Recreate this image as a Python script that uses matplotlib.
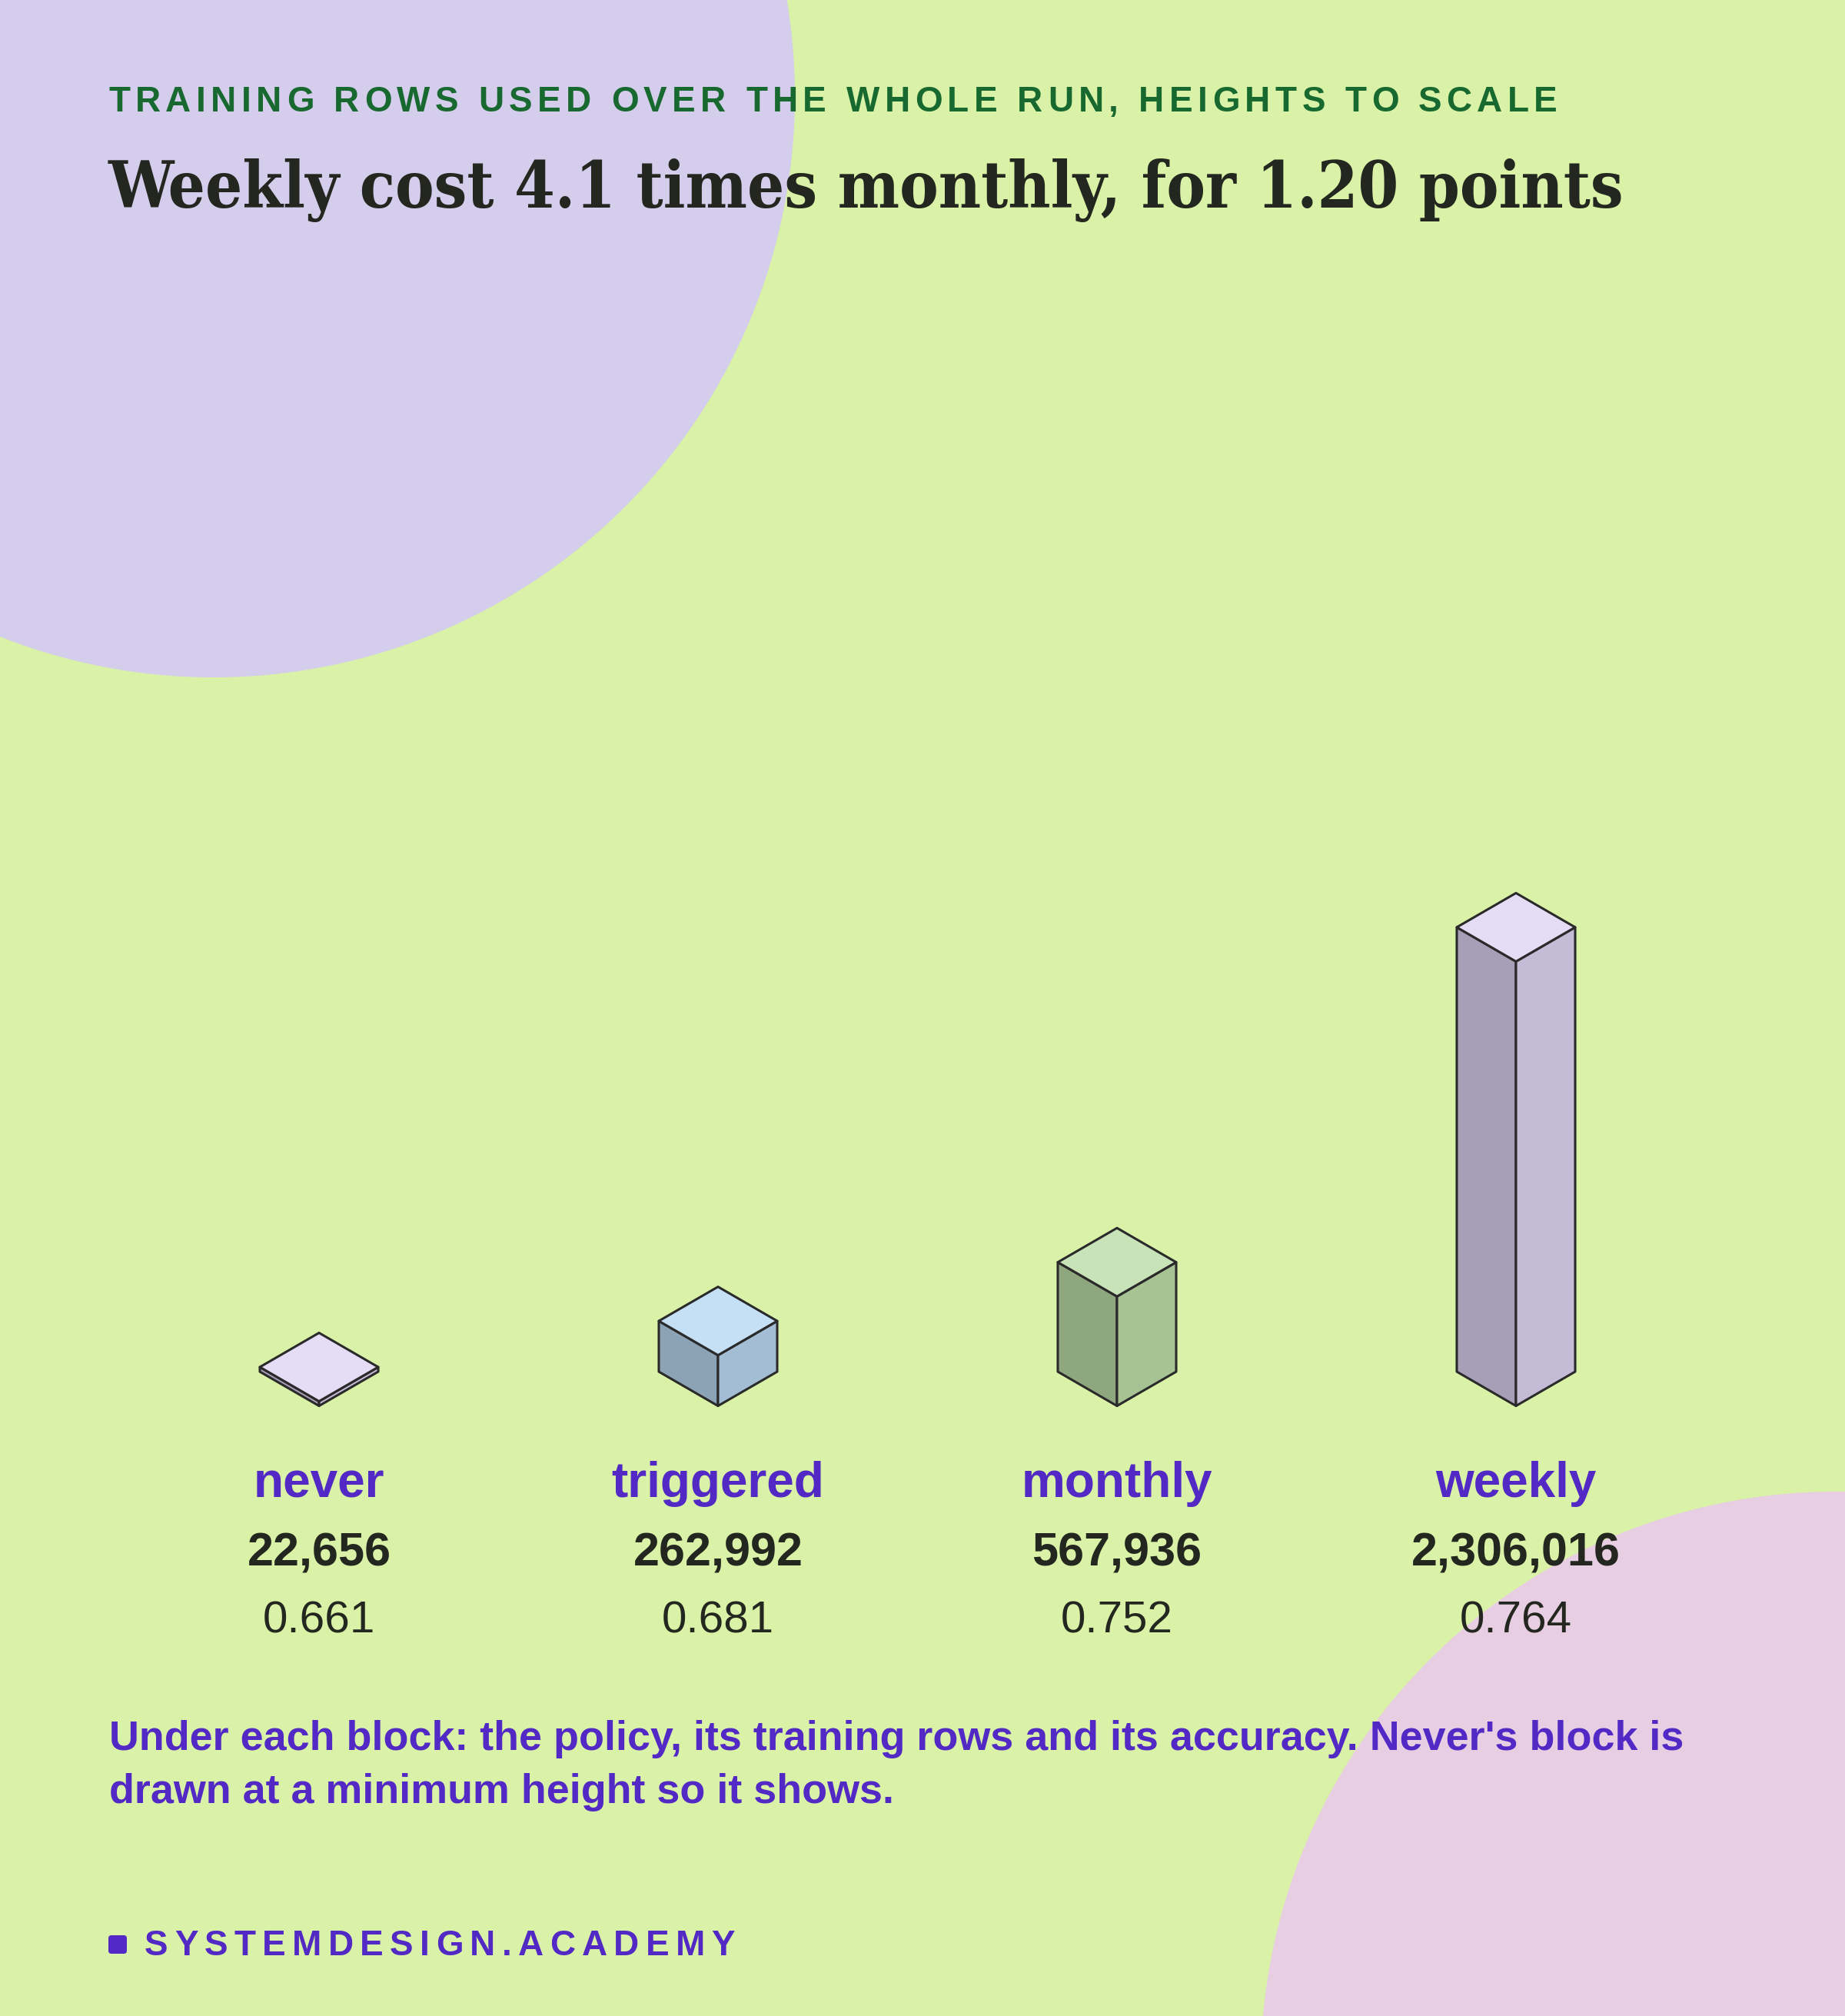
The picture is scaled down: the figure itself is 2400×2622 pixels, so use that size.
import numpy as np
import matplotlib.pyplot as plt
from matplotlib.patches import Circle, Polygon, FancyBboxPatch
from matplotlib.font_manager import FontProperties

# data
policies = ['never', 'triggered', 'monthly', 'weekly']
rows = [22656, 262992, 567936, 2306016]
accuracy = [0.661, 0.681, 0.752, 0.764]

top_colors = ['#e5dcf6', '#c5e0f5', '#c9e3b9', '#e5dcf6']
left_colors = ['#a79eb7', '#8ca3b6', '#8ea77f', '#a79eb7']
right_colors = ['#c4bbd6', '#a3bed4', '#a7c394', '#c4bbd6']

subtitle = 'TRAINING ROWS USED OVER THE WHOLE RUN, HEIGHTS TO SCALE'
title = 'Weekly cost 4.1 times monthly, for 1.20 points'
note = ["Under each block: the policy, its training rows and its accuracy. Never's block is",
        'drawn at a minimum height so it shows.']
footer = 'SYSTEMDESIGN.ACADEMY'

BG = '#d9f2a7'
PURPLE = '#5229c4'
GREEN = '#17692f'
DARK = '#23271f'

W, H = 2400, 2622
fig = plt.figure(figsize=(W / 100, H / 100), dpi=100, facecolor=BG)
ax = fig.add_axes([0, 0, 1, 1])
ax.set_xlim(0, W)
ax.set_ylim(H, 0)
ax.axis('off')
ax.set_facecolor(BG)

renderer = fig.canvas.get_renderer()


def text_w(s, fp):
    return renderer.get_text_width_height_descent(s, fp, ismath=False)[0]


def spaced(x0, x1, y, s, fp, color):
    # letter-spaced text, stretched to run from x0 to x1
    bar = text_w('|', fp)
    pos = [text_w(s[:i] + '|', fp) - bar for i in range(len(s))]
    natural = pos[-1] + text_w(s[-1], fp)
    gap = (x1 - x0 - natural) / (len(s) - 1)
    for i, ch in enumerate(s):
        if ch == ' ':
            continue
        ax.text(x0 + pos[i] + i * gap, y, ch, fontproperties=fp, color=color,
                ha='left', va='baseline')


def fit(s, fp, width):
    fp = fp.copy()
    fp.set_size(fp.get_size() * width / text_w(s, fp))
    return fp


# background blobs
ax.add_patch(Circle((278, 125), 756, color='#d5cdec', lw=0, zorder=0))
ax.add_patch(Circle((2388, 2688), 748, color='#e8cee2', lw=0, zorder=0))

# header
sans_b = FontProperties(family='Liberation Sans', weight='bold', size=33)
spaced(141, 2026, 145, subtitle, sans_b, GREEN)

serif_b = FontProperties(family='DejaVu Serif', weight='bold', stretch='condensed', size=60)
ax.text(141, 270, title, fontproperties=fit(title, serif_b, 1975), color=DARK,
        ha='left', va='baseline')

# blocks
cx0, step = 415, 519
base_y = 1828.5
hw, hh = 77, 44.5
px_per_row = 578 / 2306016
min_h = 6
for i, (name, n) in enumerate(zip(policies, rows)):
    cx = cx0 + i * step
    h = max(n * px_per_row, min_h)
    b = (cx, base_y)
    l = (cx - hw, base_y - hh)
    r = (cx + hw, base_y - hh)
    left = [l, b, (cx, base_y - h), (cx - hw, base_y - hh - h)]
    right = [b, r, (cx + hw, base_y - hh - h), (cx, base_y - h)]
    top = [(cx, base_y - h), (cx - hw, base_y - hh - h),
           (cx, base_y - 2 * hh - h), (cx + hw, base_y - hh - h)]
    for pts, c in ((left, left_colors[i]), (right, right_colors[i]), (top, top_colors[i])):
        ax.add_patch(Polygon(pts, closed=True, facecolor=c, edgecolor='#2a2a2a',
                             lw=2.2, joinstyle='round', zorder=3))

    ax.text(cx, 1947, name, family='Liberation Sans', weight='bold', size=46,
            color=PURPLE, ha='center', va='baseline')
    ax.text(cx, 2036, f'{n:,}', family='Liberation Sans', weight='bold', size=44,
            color=DARK, ha='center', va='baseline')
    ax.text(cx, 2123, f'{accuracy[i]:.3f}', family='Liberation Sans', size=42,
            color=DARK, ha='center', va='baseline')

# note under the chart
note_fp = fit(note[0], FontProperties(family='Liberation Sans', weight='bold', size=37), 2049)
ax.text(142, 2276, note[0], fontproperties=note_fp, color=PURPLE, ha='left', va='baseline')
ax.text(142, 2345, note[1], fontproperties=note_fp, color=PURPLE, ha='left', va='baseline')

# footer
ax.add_patch(FancyBboxPatch((141, 2517), 24, 24, boxstyle='round,pad=0,rounding_size=4',
                            facecolor=PURPLE, edgecolor='none'))
spaced(188, 956, 2543, footer, FontProperties(family='Liberation Sans', weight='bold', size=33),
       PURPLE)

fig.savefig('out.png', dpi=100, facecolor=BG)
